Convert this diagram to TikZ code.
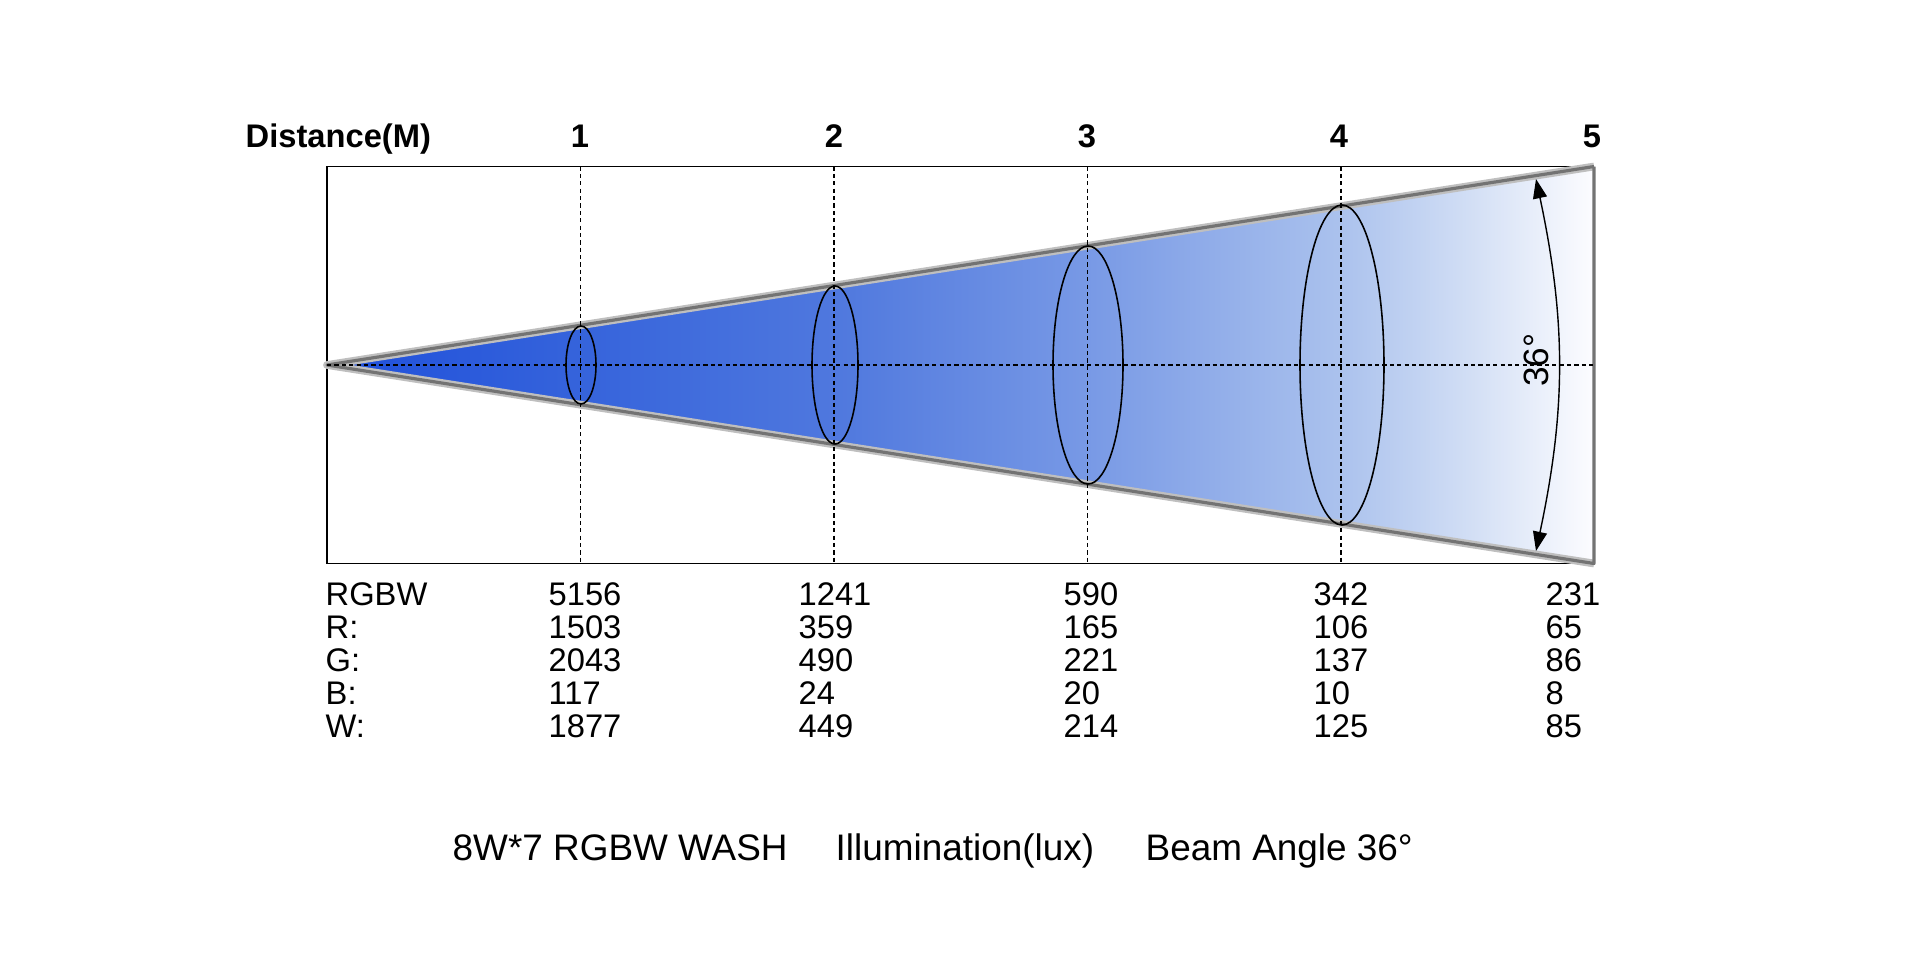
\documentclass[tikz,border=0pt]{standalone}
\usepackage{fontspec}
\setmainfont{Liberation Sans}
\usetikzlibrary{arrows.meta, positioning}

% beam colour, fading from blue to white (bbox maps to 25bp..75bp)
\pgfdeclarehorizontalshading{beamfade}{100bp}{%
  rgb(0bp)=(0.12,0.31,0.86); rgb(25bp)=(0.12,0.31,0.86);
  rgb(35bp)=(0.21,0.39,0.86); rgb(45bp)=(0.31,0.47,0.87);
  rgb(55bp)=(0.47,0.60,0.90); rgb(65bp)=(0.67,0.76,0.93);
  rgb(70bp)=(0.82,0.87,0.96); rgb(75bp)=(0.99,0.99,1.00);
  rgb(100bp)=(0.99,0.99,1.00)}

\tikzset{
  txt/.style={inner sep=0pt, font=\fontsize{9.3}{11}\selectfont},
  hdr/.style={inner sep=0pt, font=\fontsize{9.3}{11}\selectfont\bfseries},
  captxt/.style={inner sep=0pt, font=\fontsize{10.5}{12}\selectfont},
  guide/.style={line width=0.35pt, dash pattern=on 1.2pt off 0.9pt},
  spot/.style={line width=0.45pt},
  beamedge/.style={draw=black!55, line width=0.9pt, line join=round},
  tip/.style={Triangle[length=5.5pt,width=4pt]},
}

\begin{document}
\begin{tikzpicture}[x=0.1mm, y=-0.1mm]
  \useasboundingbox (0,0) rectangle (1920,960);

  % Beam
  \coordinate (apex) at (327,365);
  \coordinate (tr) at (1594,166.5);
  \coordinate (br) at (1594,563.5);
  \shade[shading=beamfade] (apex) -- (tr) -- (br) -- cycle;

  % Frame
  \draw[line width=0.5pt] (tr) -- (327,166.5) -- (327,563.5) -- (br);

  % Beam edges
  \draw[black!25, line width=2.2pt, line join=round] (tr) -- (apex) -- (br);
  \draw[beamedge] (tr) -- (apex) -- (br) -- (tr);

  % Guide lines
  \draw[guide] (apex) -- (1594,365);
  \foreach \x in {580.5, 834, 1087.5, 1341}
    \draw[guide] (\x,166.5) -- (\x,563.5);

  % Light spots
  \draw[spot] (581,365) ellipse [x radius=15, y radius=39];
  \draw[spot] (835,365) ellipse [x radius=23, y radius=79];
  \draw[spot] (1088,365) ellipse [x radius=35, y radius=119];
  \draw[spot] (1342,365) ellipse [x radius=42, y radius=160];

  % Beam angle
  \coordinate (arclo) at (1536,551);
  \coordinate (archi) at (1536,179);
  \draw[{Triangle[length=5.5pt,width=4pt]}-{Triangle[length=5.5pt,width=4pt]}, line width=0.4pt]
    (arclo) to[bend right=12] (archi);
  \node[txt, font=\fontsize{10}{12}\selectfont, rotate=90] (angle) at (1536,360) {36°};

  % Distance header
  \node[hdr, anchor=base west] (dist) at (245,147) {Distance(M)};
  \foreach \n/\x in {1/580, 2/834, 3/1087, 4/1339, 5/1592}
    \node[hdr, anchor=base] (d\n) at (\x,147) {\n};

  % Illumination table
  \foreach \lab [count=\r] in {RGBW, R:, G:, B:, W:}
    \node[txt, anchor=base west] (row\r) at (325,572+33*\r) {\lab};
  \foreach \x/\vals [count=\c] in {548/{5156,1503,2043,117,1877},
      798/{1241,359,490,24,449}, 1063/{590,165,221,20,214},
      1313/{342,106,137,10,125}, 1545/{231,65,86,8,85}}
    \foreach \v [count=\r] in \vals
      \node[txt, anchor=base west] (v\c-\r) at (\x,572+33*\r) {\v};

  % Caption
  \node[captxt, anchor=base west] (model) at (452,860) {8W*7 RGBW WASH};
  \node[captxt, anchor=base west] (illum) at (835,860) {Illumination(lux)};
  \node[captxt, anchor=base west] (beamangle) at (1145,860) {Beam Angle 36°};
\end{tikzpicture}
\end{document}
